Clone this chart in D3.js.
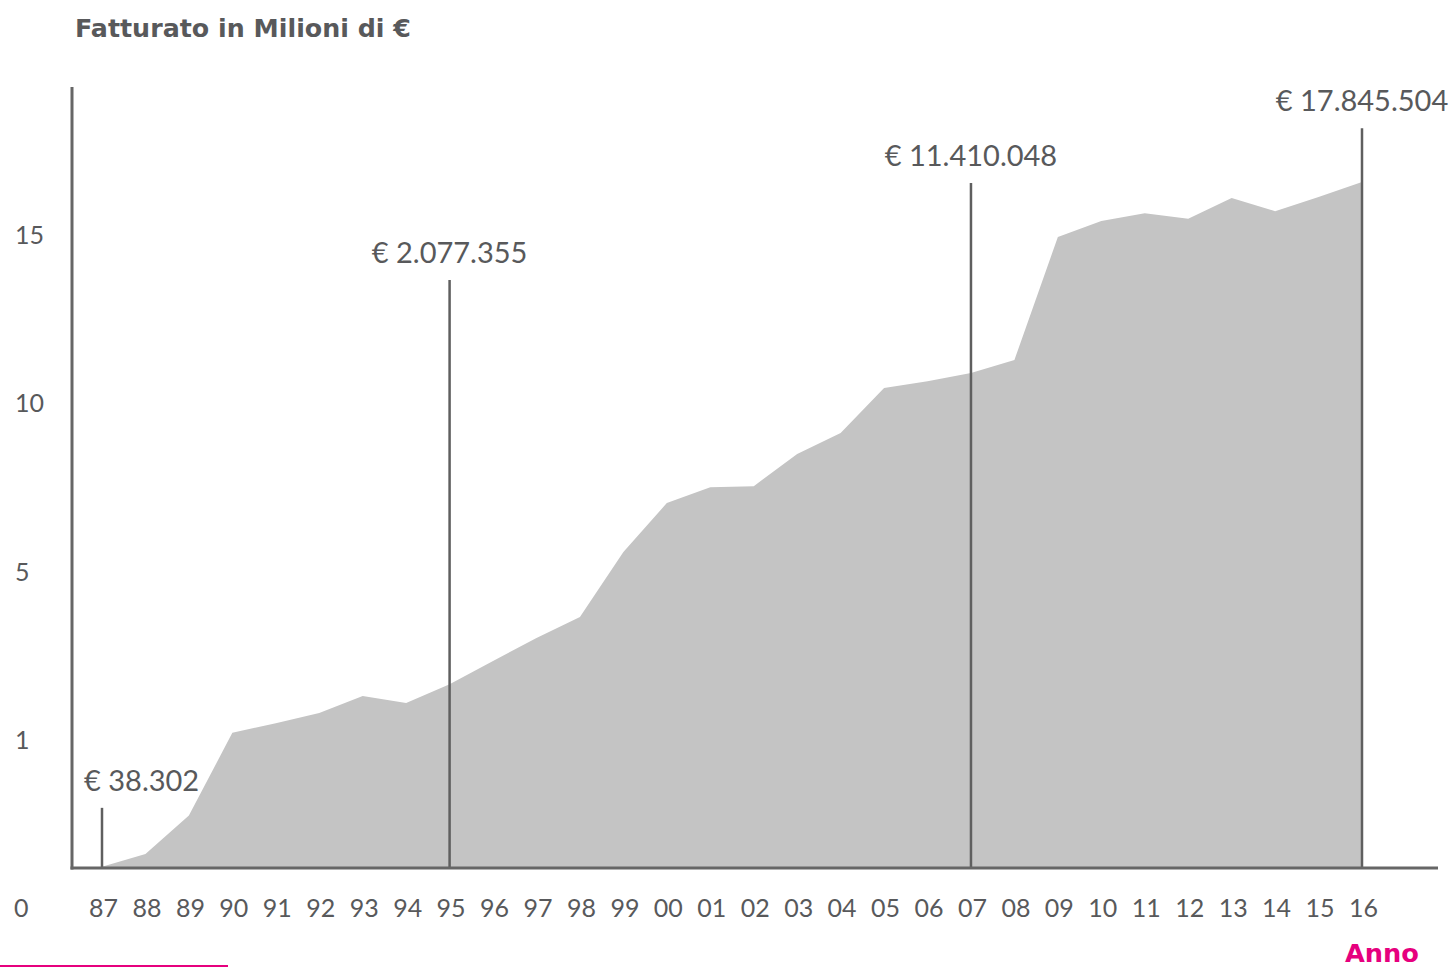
<!DOCTYPE html>
<html>
<head>
<meta charset="utf-8">
<script src="https://cdn.jsdelivr.net/npm/d3@7"></script>
<style>
    body { margin: 0; background: #fff; }
    text { font-family: Lato, "Open Sans", sans-serif; fill: #58595b; }
    .title { font-family: "DejaVu Sans", sans-serif; font-size: 25px; font-weight: bold; }
    .tick text { font-size: 25px; }
    .note { font-size: 29px; }
    .anno { font-family: "DejaVu Sans", sans-serif; font-size: 25px; font-weight: bold; fill: #e6007e; }
</style>
</head>
<body>
<svg class="chart"></svg>
<script>
// Chart data: years on x, turnover in millions of euro on y
var years = ["87", "88", "89", "90", "91", "92", "93", "94", "95", "96",
             "97", "98", "99", "00", "01", "02", "03", "04", "05", "06",
             "07", "08", "09", "10", "11", "12", "13", "14", "15", "16"];
var turnover = [0.01, 0.11, 0.41, 1.17, 1.40, 1.64, 2.05, 1.88, 2.33, 2.88,
                3.43, 3.93, 5.59, 7.04, 7.51, 7.54, 8.49, 9.11, 10.45, 10.65,
                10.89, 11.28, 14.94, 15.42, 15.65, 15.48, 16.10, 15.71, 16.13, 16.58];

// Highlighted years with their labels and marker heights (in y units)
var markerYears = ["87", "95", "07", "16"];
var markerLabels = ["€ 38.302", "€ 2.077.355", "€ 11.410.048", "€ 17.845.504"];
var markerTops = [0.47, 13.66, 16.55, 18.18];

// y axis tick labels (axis is not linear: 1, 5, 10, 15 are evenly spaced)
var yTicks = [1, 5, 10, 15];

// Canvas size
var imageWidth = 1455;
var imageHeight = 968;
var baseline = 868;
var axisLeftX = 72;

var canvas = d3.select(".chart")
    .attr("width", imageWidth)
    .attr("height", imageHeight);

// Scales
var xScale = d3.scalePoint()
    .domain(years)
    .range([102, 1362]);

var yScale = d3.scaleLinear()
    .domain([0, 1, 5, 10, 15])
    .range([baseline, 740, 572, 403, 235]);

var data = years.map(function(y, i) { return {year: y, value: turnover[i]}; });

// Title
canvas.append("text")
    .attr("class", "title")
    .attr("x", 75)
    .attr("y", 37)
    .attr("textLength", 336)
    .attr("lengthAdjust", "spacingAndGlyphs")
    .text("Fatturato in Milioni di €");

// Area
var area = d3.area()
    .x(function(d) { return xScale(d.year); })
    .y0(yScale(0))
    .y1(function(d) { return yScale(d.value); });

canvas.append("path")
    .datum(data)
    .attr("d", area)
    .attr("fill", "#c4c4c4");

// Marker lines and labels
markerYears.forEach(function(year, i) {
    var x = xScale(year);
    var top = yScale(markerTops[i]);
    canvas.append("line")
        .attr("x1", x).attr("x2", x)
        .attr("y1", top).attr("y2", baseline)
        .attr("stroke", "#5f5f5f")
        .attr("stroke-width", 2.5);
    canvas.append("text")
        .attr("class", "note")
        .attr("x", i == 0 ? x - 18 : x)
        .attr("y", top - 17)
        .attr("text-anchor", i == 0 ? "start" : "middle")
        .text(markerLabels[i]);
});

// Axis lines
canvas.append("line")
    .attr("x1", axisLeftX).attr("x2", axisLeftX)
    .attr("y1", 87).attr("y2", baseline + 1.5)
    .attr("stroke", "#666").attr("stroke-width", 3);

canvas.append("line")
    .attr("x1", axisLeftX - 1.5).attr("x2", 1438)
    .attr("y1", baseline).attr("y2", baseline)
    .attr("stroke", "#666").attr("stroke-width", 3);

// x axis labels
var xAxis = canvas.append("g")
    .attr("transform", "translate(1, 899)")
    .call(d3.axisBottom(xScale).tickSize(0).tickPadding(0));
xAxis.select(".domain").remove();
xAxis.selectAll("text").attr("dy", "0.71em").attr("fill", null);

// y axis labels
var yAxis = canvas.append("g")
    .attr("transform", "translate(15, 0)")
    .call(d3.axisLeft(yScale).tickValues(yTicks).tickSize(0).tickPadding(0));
yAxis.select(".domain").remove();
yAxis.selectAll("text").attr("text-anchor", "start").attr("x", 0).attr("fill", null);

// origin label sits on the year row
canvas.append("text")
    .attr("x", 14)
    .attr("y", 917)
    .style("font-size", "25px")
    .text("0");

// "Anno" label and pink rule
canvas.append("text")
    .attr("class", "anno")
    .attr("x", 1345)
    .attr("y", 962)
    .attr("textLength", 74)
    .attr("lengthAdjust", "spacingAndGlyphs")
    .text("Anno");

canvas.append("line")
    .attr("x1", 0).attr("x2", 228)
    .attr("y1", 966).attr("y2", 966)
    .attr("stroke", "#e6007e")
    .attr("stroke-width", 2);
</script>
</body>
</html>
